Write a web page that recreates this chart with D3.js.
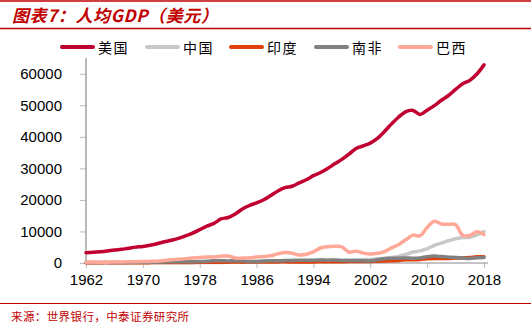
<!DOCTYPE html>
<html><head><meta charset="utf-8">
<script src="https://cdn.jsdelivr.net/npm/d3@7"></script>
<style>
html,body{margin:0;padding:0;background:#fff;}
svg{display:block;}
</style></head>
<body><svg id="c" width="531" height="328"></svg>
<script>
const years = d3.range(1962, 2019);
const seriesNames = ["美国","中国","印度","南非","巴西"];
const seriesColors = ["#C00030","#C8C8C8","#E0400A","#808080","#FFA898"];
const usa = [3243,3374,3573,3828,4146,4336,4696,5032,5234,5609,6094,6726,7226,7801,8592,9453,10565,11674,12575,13976,14434,15544,17121,18237,19071,20039,21417,22857,23889,24342,25419,26387,27695,28691,29968,31459,32854,34515,36335,37133,38023,39497,41712,44115,46299,47976,48383,47100,48468,49887,51603,53107,55033,56804,57904,59928,62823];
const china = [70,74,85,98,104,97,91,100,113,119,132,157,160,178,165,185,156,184,195,197,203,225,250,294,282,252,284,311,318,333,366,377,473,610,709,782,829,873,959,1053,1149,1289,1509,1753,2099,2694,3468,3832,4550,5618,6317,7051,7679,8067,8148,8879,9977];
const india = [90,101,116,119,90,96,99,107,112,119,122,143,163,158,161,186,206,224,267,271,275,292,277,297,310,340,355,347,368,303,317,301,346,374,400,413,413,441,443,452,471,546,627,714,806,1028,999,1102,1358,1458,1444,1450,1574,1606,1733,1981,2005];
const southAfrica = [130,137,148,158,167,181,189,208,217,233,248,335,400,403,385,416,464,553,730,729,655,697,600,454,500,642,680,698,785,824,881,866,874,956,900,932,829,816,811,718,683,1037,1336,1471,1528,1623,1498,1615,2015,2184,2044,1860,1742,1551,1434,1684,1762];
const brazil = [255,291,257,256,323,349,375,401,445,504,586,793,1011,1160,1389,1556,1740,1916,1941,2126,2226,1579,1547,1609,1908,2036,2274,2895,3300,3100,2526,2791,3500,4749,5166,5282,5087,3478,3750,3157,2829,3071,3637,4790,5886,7348,8831,8598,11286,13246,12370,12300,12113,8814,8710,9928,9001];
const yTicks = [0,10000,20000,30000,40000,50000,60000];
const xTicks = [1962,1970,1978,1986,1994,2002,2010,2018];
const seriesData = [usa, china, india, southAfrica, brazil];

const svg = d3.select("#c");
const red = "#C00000";
const W = 531;

// decorative rules
svg.append("line").attr("x1",0).attr("x2",W).attr("y1",1).attr("y2",1).attr("stroke",red).attr("stroke-width",1.5);
svg.append("line").attr("x1",0).attr("x2",W).attr("y1",28.5).attr("y2",28.5).attr("stroke",red).attr("stroke-width",1.5);
svg.append("line").attr("x1",0).attr("x2",W).attr("y1",303.5).attr("y2",303.5).attr("stroke",red).attr("stroke-width",1.2);

svg.append("text").attr("x",12).attr("y",22)
  .attr("font-family","'Noto Sans CJK SC', sans-serif").attr("font-size",17)
  .attr("letter-spacing",0.6)
  .attr("font-weight","bold").attr("font-style","italic").attr("fill",red)
  .text("图表7：人均GDP（美元）");

svg.append("text").attr("x",11).attr("y",320.5)
  .attr("font-family","'Noto Sans CJK SC', sans-serif").attr("font-size",11.5)
  .attr("letter-spacing",0.4)
  .attr("fill",red).text("来源：世界银行，中泰证券研究所");

const x = d3.scaleLinear().domain([1962,2018]).range([86,484]);
const y = d3.scaleLinear().domain([0,65000]).range([263,58]);

// axes
const axisColor = "#8a8a8a";
const ya = svg.append("g").attr("transform","translate(86,0)")
  .call(d3.axisLeft(y).tickValues(yTicks).tickSize(6).tickPadding(18).tickFormat(d3.format("d")));
const xa = svg.append("g").attr("transform","translate(0,263)")
  .call(d3.axisBottom(x).tickValues(xTicks).tickSize(5).tickPadding(6).tickFormat(d3.format("d")));
[ya, xa].forEach(g => {
  g.select(".domain").remove();
  g.selectAll(".tick line").attr("stroke","#bbbbbb");
  g.selectAll(".tick text").attr("fill","#000").attr("font-family","'Liberation Sans', Arial, sans-serif").attr("font-size",15);
});
svg.append("line").attr("x1",86).attr("x2",86).attr("y1",58).attr("y2",263).attr("stroke",axisColor).attr("stroke-width",1.2);
svg.append("line").attr("x1",86).attr("x2",488).attr("y1",263).attr("y2",263).attr("stroke",axisColor).attr("stroke-width",1.2);

// lines
const line = d3.line().x((d,i)=>x(years[i])).y(d=>y(d)).curve(d3.curveCatmullRom.alpha(0.5));
seriesData.forEach((s,k)=>{
  svg.append("path").datum(s).attr("d",line).attr("fill","none")
    .attr("stroke",seriesColors[k]).attr("stroke-width",3.5)
    .attr("stroke-linejoin","round").attr("stroke-linecap","round");
});

// legend
const legX = [62,147,231,316,400];
seriesNames.forEach((n,k)=>{
  svg.append("line").attr("x1",legX[k]).attr("x2",legX[k]+31).attr("y1",47).attr("y2",47)
    .attr("stroke",seriesColors[k]).attr("stroke-width",4).attr("stroke-linecap","round");
  svg.append("text").attr("x",legX[k]+36).attr("y",52.5)
    .attr("font-family","'Noto Sans CJK SC', sans-serif").attr("font-size",14)
    .attr("letter-spacing",1.5).attr("fill","#000").text(n);
});
</script></body></html>
